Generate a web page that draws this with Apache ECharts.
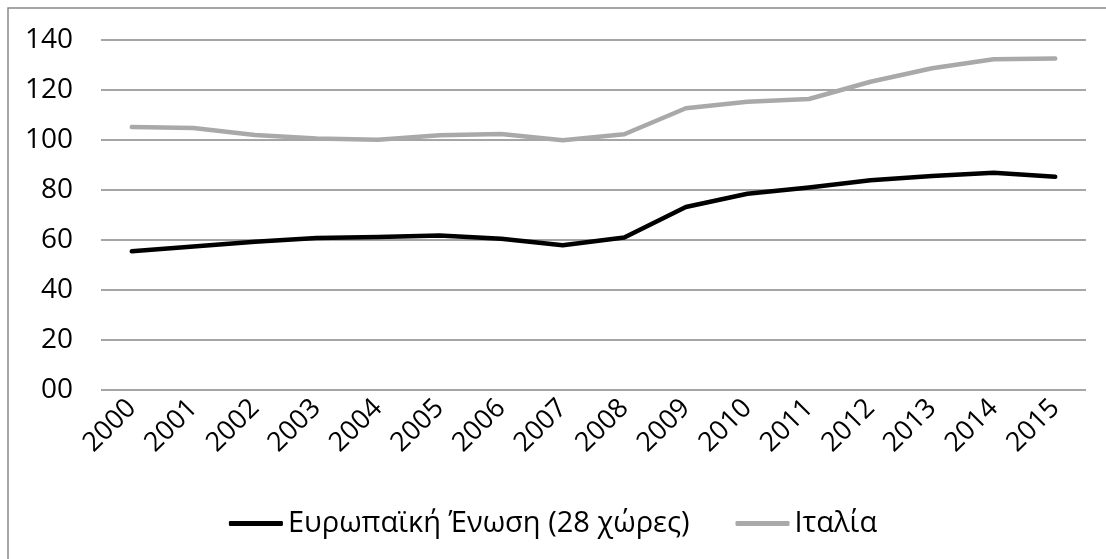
<!DOCTYPE html>
<html>
<head>
<meta charset="utf-8">
<script src="https://cdn.jsdelivr.net/npm/echarts@6/dist/echarts.min.js"></script>
<style>
  html, body { margin: 0; padding: 0; background: #fff; }
  #chart { width: 1106px; height: 559px; }
</style>
</head>
<body>
<div id="chart"></div>
<script>
// Years on the horizontal axis
const years = ['2000', '2001', '2002', '2003', '2004', '2005', '2006', '2007',
               '2008', '2009', '2010', '2011', '2012', '2013', '2014', '2015'];

// Series values
const euValues = [55.5, 57.4, 59.3, 60.8, 61.2, 61.8, 60.5, 57.9,
                  61.0, 73.2, 78.5, 81.0, 83.9, 85.6, 86.9, 85.3];
const italyValues = [105.2, 104.8, 102.0, 100.6, 100.1, 101.9, 102.4, 99.9,
                     102.3, 112.7, 115.3, 116.4, 123.3, 128.7, 132.3, 132.6];

// Series names
const euName = 'Ευρωπαϊκή Ένωση (28 χώρες)';
const italyName = 'Ιταλία';

// Value-axis tick labels (0 is written as "00")
const yTickLabels = ['00', '20', '40', '60', '80', '100', '120', '140'];

const FONT = 'Open Sans';
const chart = echarts.init(document.getElementById('chart'), null, { renderer: 'canvas' });

chart.setOption({
  backgroundColor: '#ffffff',
  animation: false,
  textStyle: { fontFamily: FONT },
  graphic: [{
    type: 'rect',
    shape: { x: 8, y: 8, width: 1300, height: 1300 },
    style: { fill: 'none', stroke: '#898989', lineWidth: 1.5 },
    silent: true,
    z: -10
  }],
  grid: { left: 101, right: 20, top: 40, bottom: 169 },
  xAxis: {
    type: 'category',
    data: years,
    boundaryGap: true,
    axisLine: { show: false },
    axisTick: { show: false },
    axisLabel: {
      rotate: 45,
      margin: 14,
      fontSize: 27,
      color: '#000',
      fontFamily: FONT
    },
    splitLine: { show: false }
  },
  yAxis: {
    type: 'value',
    min: 0,
    max: 140,
    interval: 20,
    axisLine: { show: false },
    axisTick: { show: false },
    axisLabel: {
      margin: 28,
      fontSize: 28,
      color: '#000',
      fontFamily: FONT,
      formatter: (v) => yTickLabels[Math.round(v / 20)]
    },
    splitLine: { lineStyle: { color: '#878787', width: 1.5 } }
  },
  legend: {
    bottom: 16,
    left: 'center',
    itemWidth: 54,
    itemHeight: 5,
    itemGap: 46,
    icon: 'roundRect',
    textStyle: { fontSize: 29, color: '#000', fontFamily: FONT, padding: [0, 0, 0, 0] },
    data: [euName, italyName]
  },
  series: [
    {
      name: euName,
      type: 'line',
      data: euValues,
      symbol: 'none',
      itemStyle: { color: '#000000' },
      lineStyle: { color: '#000000', width: 4.5, cap: 'round', join: 'round' },
      z: 3
    },
    {
      name: italyName,
      type: 'line',
      data: italyValues,
      symbol: 'none',
      itemStyle: { color: '#a9a9a9' },
      lineStyle: { color: '#a9a9a9', width: 4.5, cap: 'round', join: 'round' },
      z: 2
    }
  ]
});
</script>
</body>
</html>
